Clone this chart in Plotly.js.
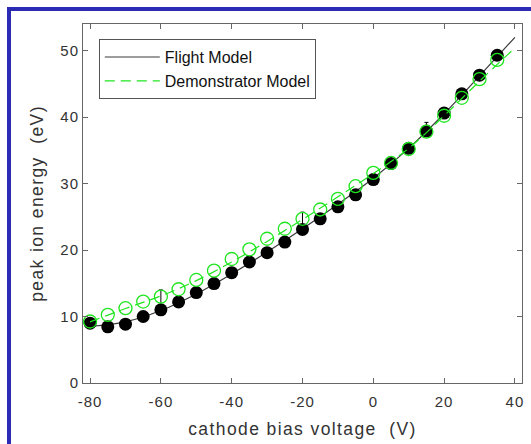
<!DOCTYPE html>
<html>
<head>
<meta charset="utf-8">
<script src="https://cdn.plot.ly/plotly-3.0.1.min.js"></script>
<style>
  html, body { margin: 0; padding: 0; background: #ffffff; }
  #chart { position: absolute; left: 0; top: 0; width: 531px; height: 444px; }
  #frame { position: absolute; left: 7px; top: 7px; width: 600px; height: 500px;
           border-left: 4px solid #2b2bb3; border-top: 4px solid #2b2bb3; pointer-events: none; }
  #chart .xtick text, #chart .ytick text { letter-spacing: 1px; }
  #chart text.xtitle, #chart text.ytitle { letter-spacing: 1.4px; }
</style>
</head>
<body>
<div id="chart"></div>
<div id="frame"></div>
<script>
// Measured points (every 5 V)
const voltage = [-80, -75, -70, -65, -60, -55, -50, -45, -40, -35, -30, -25, -20, -15, -10, -5, 0, 5, 10, 15, 20, 25, 30, 35];
const flightEnergy = [9.0, 8.45, 8.85, 10.0, 11.0, 12.2, 13.6, 14.95, 16.6, 18.2, 19.6, 21.2, 23.1, 24.7, 26.5, 28.3, 30.6, 33.0, 35.3, 37.9, 40.6, 43.5, 46.3, 49.3];
const flightErrUp = [0, 0, 0, 0, 3.0, 0, 0, 0, 0, 0, 0, 0, 2.6, 0, 0, 0, 0, 0, 0, 1.3, 0, 0, 0, 0];
const demoEnergy = [9.25, 10.25, 11.25, 12.25, 13.0, 14.1, 15.5, 16.9, 18.65, 20.1, 21.7, 23.2, 24.7, 26.1, 27.7, 29.6, 31.6, 33.1, 35.2, 37.8, 40.2, 42.9, 45.7, 48.6];

// Fit curves
const fitVoltage = [-80, -70, -60, -50, -40, -30, -20, -10, 0, 10, 20, 30, 40];
const flightFit = [8.5, 9.2, 10.9, 13.4, 16.4, 19.7, 23.2, 26.9, 30.8, 35.3, 40.5, 46.2, 52.0];
const demoFit = [9.2, 11.2, 13.1, 15.4, 18.2, 21.3, 24.6, 28.0, 31.5, 35.3, 40.2, 45.4, 50.4];

const xTicks = [-80, -60, -40, -20, 0, 20, 40];
const yTicks = [0, 10, 20, 30, 40, 50];

const seriesNames = ['Flight Model', 'Demonstrator Model'];

const black = '#000000';
const green = 'rgb(30,230,30)';
const font = 'Liberation Sans, Arial, Helvetica, sans-serif';

const traces = [
  { x: fitVoltage, y: flightFit, mode: 'lines', type: 'scatter', name: seriesNames[0],
    line: { color: '#3a3a3a', width: 1.2, shape: 'spline' }, hoverinfo: 'skip' },
  { x: voltage, y: flightEnergy, mode: 'markers', type: 'scatter', showlegend: false,
    marker: { symbol: 'circle', size: 13, color: black, line: { width: 0 } },
    error_y: { type: 'data', symmetric: false, array: flightErrUp, arrayminus: flightErrUp.map(() => 0),
               color: black, thickness: 1, width: 2 } },
  { x: fitVoltage, y: demoFit, mode: 'lines', type: 'scatter', name: seriesNames[1],
    line: { color: green, width: 1.2, dash: '10px,6px', shape: 'spline' }, hoverinfo: 'skip' },
  { x: voltage, y: demoEnergy, mode: 'markers', type: 'scatter', showlegend: false,
    marker: { symbol: 'circle-open', size: 13, color: green, line: { width: 1.3, color: green } } }
];

const axisCommon = {
  showline: true, linecolor: '#666666', linewidth: 1, mirror: 'ticks',
  ticks: 'inside', ticklen: 5, tickcolor: '#666666', tickwidth: 1,
  showgrid: false, zeroline: false,
  tickfont: { family: font, size: 15, color: '#333333' }
};

const layout = {
  width: 531, height: 444,
  margin: { l: 83, r: 9, t: 24, b: 61 },
  paper_bgcolor: '#ffffff', plot_bgcolor: '#ffffff',
  font: { family: font, color: '#333333' },
  xaxis: Object.assign({}, axisCommon, {
    range: [-82, 42], tickvals: xTicks, ticktext: xTicks.map(String),
    ticklabelstandoff: 5,
    title: { text: 'cathode bias voltage  (V)', font: { family: font, size: 17.5, color: '#333333' }, standoff: 13 }
  }),
  yaxis: Object.assign({}, axisCommon, {
    range: [0, 54], tickvals: yTicks, ticktext: yTicks.map(String),
    title: { text: 'peak ion energy  (eV)', font: { family: font, size: 17.5, color: '#333333' }, standoff: 14 }
  }),
  legend: {
    x: 0.036, y: 0.958, xanchor: 'left', yanchor: 'top',
    bgcolor: '#ffffff', bordercolor: '#555555', borderwidth: 1,
    font: { family: font, size: 16, color: '#111111' },
    itemwidth: 55, tracegroupgap: 0
  },
  showlegend: true
};

Plotly.newPlot('chart', traces, layout, { displayModeBar: false, staticPlot: true });
</script>
</body>
</html>
